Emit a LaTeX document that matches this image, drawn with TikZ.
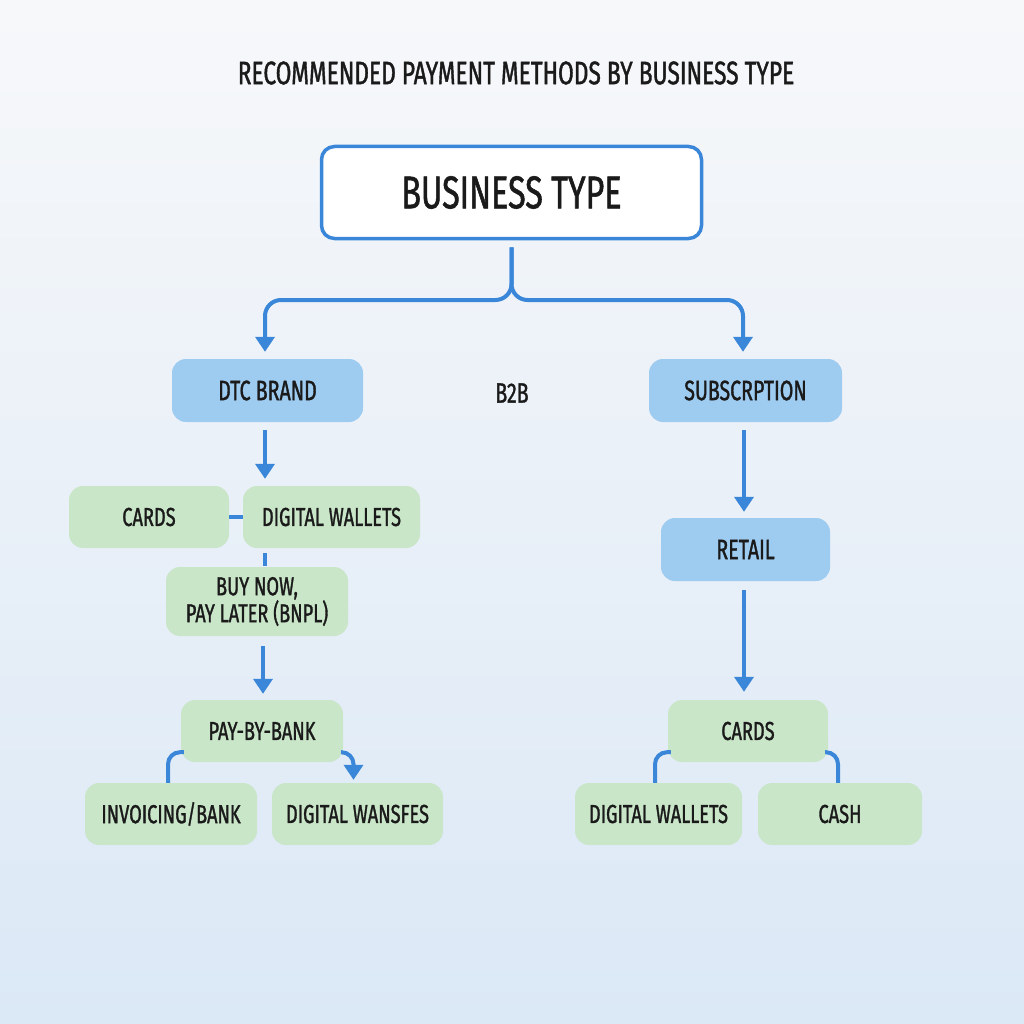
\documentclass[tikz,border=0pt]{standalone}
\usepackage{fontspec}
\setmainfont{Fira Sans}[FakeStretch=0.70, FakeBold=1.2]
\usetikzlibrary{arrows.meta,calc}
\definecolor{bgtop}{HTML}{F7F8FA}
\definecolor{bgbot}{HTML}{DBE8F6}
\definecolor{lineblue}{HTML}{3A86D8}
\definecolor{boxblue}{HTML}{9ECBF0}
\definecolor{boxgreen}{HTML}{C9E6C8}
\definecolor{txt}{HTML}{1A1A1A}
\tikzset{
  conn/.style={draw=lineblue, line width=4pt},
  arr/.style={conn, -{Triangle[width=19pt,length=15pt]}},
  bluebox/.style={fill=boxblue, rounded corners=14pt, text=txt, font=\fontsize{28}{30}\selectfont, align=center, inner sep=0pt},
  greenbox/.style={fill=boxgreen, rounded corners=14pt, text=txt, font=\fontsize{26}{28}\selectfont, align=center, inner sep=0pt},
}
\begin{document}
\begin{tikzpicture}[x=1pt,y=-1pt]
\shade[top color=bgtop, bottom color=bgbot] (0,0) rectangle (1024,1024);
\useasboundingbox (0,0) rectangle (1024,1024);

\node[text=txt, font=\fontsize{32.5}{36}\selectfont] (title) at (516,73) {RECOMMENDED PAYMENT METHODS BY BUSINESS TYPE};

\node[draw=lineblue, line width=3.5pt, fill=white, rounded corners=13pt, minimum width=380pt, minimum height=92pt, text=txt, font=\fontsize{46}{50}\selectfont, inner sep=0pt] (bt) at (511.5,192.5) {BUSINESS TYPE};

\node[bluebox, minimum width=191pt, minimum height=63pt] (dtc) at (267.5,390.5) {DTC BRAND};
\node[text=txt, font=\fontsize{28}{30}\selectfont] (b2b) at (512,393) {B2B};
\node[bluebox, minimum width=193pt, minimum height=63pt] (sub) at (745.5,390.5) {SUBSCRPTION};

\node[greenbox, minimum width=160pt, minimum height=62pt] (cards1) at (149,517) {CARDS};
\node[greenbox, minimum width=177pt, minimum height=62pt] (dw1) at (331.5,517) {DIGITAL WALLETS};
\node[greenbox, minimum width=182pt, minimum height=69pt, font=\fontsize{26}{27}\selectfont] (bnpl) at (257,601.5) {BUY NOW,\\PAY LATER (BNPL)};
\node[greenbox, minimum width=162pt, minimum height=62pt] (pbb) at (262,731) {PAY-BY-BANK};
\node[greenbox, minimum width=172pt, minimum height=62pt] (inv) at (171,814) {INVOICING/BANK};
\node[greenbox, minimum width=171pt, minimum height=62pt] (dwan) at (357.5,814) {DIGITAL WANSFES};

\node[bluebox, minimum width=169pt, minimum height=63pt] (retail) at (745.5,549.5) {RETAIL};
\node[greenbox, minimum width=160pt, minimum height=62pt] (cards2) at (748,731) {CARDS};
\node[greenbox, minimum width=167pt, minimum height=62pt] (dw2) at (658.5,814) {DIGITAL WALLETS};
\node[greenbox, minimum width=164pt, minimum height=62pt] (cash) at (840,814) {CASH};

\coordinate (split) at (512,300);

% brace from business type
\draw[arr, rounded corners=16pt, shorten <=7pt, shorten >=7pt] (bt.south) -- (bt.south |- split) -| ([xshift=-2.5pt]dtc.north);
\draw[arr, rounded corners=16pt, shorten <=7pt, shorten >=7pt] (bt.south) -- (bt.south |- split) -| ([xshift=-2.5pt]sub.north);

% left branch
\draw[arr, shorten <=8pt, shorten >=7pt] ([xshift=-2.5pt]dtc.south) -- ([xshift=-2.5pt]dtc.south |- dw1.north);
\draw[conn] (cards1.east) -- (dw1.west);
\draw[conn, shorten <=5pt, shorten >=1pt] ([xshift=-2.5pt]dtc.south |- dw1.south) -- ([xshift=-2.5pt]dtc.south |- bnpl.north);
\draw[arr, shorten <=10pt, shorten >=6pt] ([xshift=6pt]bnpl.south) -- ([xshift=6pt]bnpl.south |- pbb.north);
\draw[conn, rounded corners=12pt] ($(pbb.south west)+(3,-10)$) -| ([xshift=-3pt]inv.north);
\draw[arr, rounded corners=12pt, shorten >=3pt] ($(pbb.south east)+(-2,-10)$) -| ([xshift=-4pt]dwan.north);

% right branch
\draw[arr, shorten <=8pt, shorten >=6pt] ([xshift=-1.5pt]sub.south) -- ([xshift=-1.5pt]sub.south |- retail.north);
\draw[arr, shorten <=9pt, shorten >=8pt] ([xshift=-1.5pt]retail.south) -- ([xshift=-1.5pt]retail.south |- cards2.north);
\draw[conn, rounded corners=12pt] ($(cards2.south west)+(3,-10)$) -| ([xshift=-3.5pt]dw2.north);
\draw[conn, rounded corners=12pt] ($(cards2.south east)+(-3,-10)$) -| ([xshift=-2pt]cash.north);
\end{tikzpicture}
\end{document}
